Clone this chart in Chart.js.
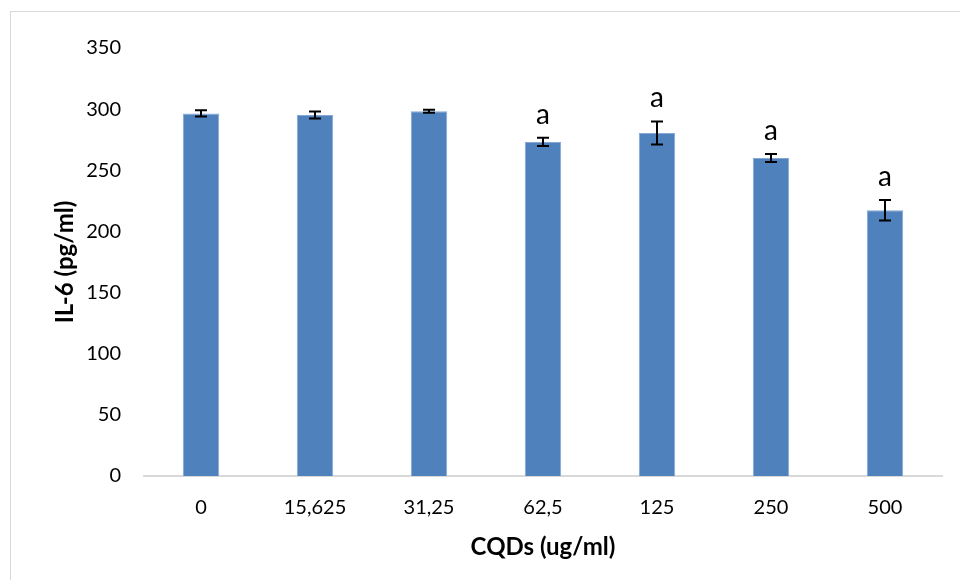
<!DOCTYPE html>
<html>
<head>
<meta charset="utf-8">
<script src="https://cdn.jsdelivr.net/npm/chart.js@4.4.1/dist/chart.umd.min.js"></script>
<style>
  html, body { margin: 0; padding: 0; background: #fff; }
  #wrap { position: relative; width: 960px; height: 580px; }
  #frame { position: absolute; left: 10px; top: 11px; width: 960px; height: 580px; border: 1px solid #d9d9d9; box-sizing: border-box; }
  canvas { position: absolute; left: 0; top: 0; }
</style>
</head>
<body>
<div id="wrap">
  <div id="frame"></div>
  <canvas id="il6Chart" width="960" height="580"></canvas>
</div>
<script>
const categories = ['0', '15,625', '31,25', '62,5', '125', '250', '500'];
const il6Values = [296.5, 295.2, 298.3, 273.2, 280.5, 260.0, 217.3];
const il6Errors = [2.5, 2.9, 1.3, 3.4, 9.4, 3.3, 8.3];
const sigLetters = ['', '', '', 'a', 'a', 'a', 'a'];
const yTicks = [0, 50, 100, 150, 200, 250, 300, 350];

const FONT = 'Lato, "Open Sans", sans-serif';

// error bars + significance letters, placed with the chart's own scales
const errorBarPlugin = {
  id: 'errorBars',
  afterDatasetsDraw(chart) {
    const ctx = chart.ctx;
    const x = chart.scales.x;
    const y = chart.scales.y;
    ctx.save();
    ctx.strokeStyle = '#000';
    ctx.lineWidth = 2;
    il6Values.forEach(function(v, i) {
      const cx = x.getPixelForValue(i);
      const top = y.getPixelForValue(v + il6Errors[i]);
      const bot = y.getPixelForValue(v - il6Errors[i]);
      ctx.beginPath();
      ctx.moveTo(cx, top);
      ctx.lineTo(cx, bot);
      ctx.moveTo(cx - 6, top);
      ctx.lineTo(cx + 6, top);
      ctx.moveTo(cx - 6, bot);
      ctx.lineTo(cx + 6, bot);
      ctx.stroke();

      if (sigLetters[i]) {
        ctx.fillStyle = '#000';
        ctx.font = '28px ' + FONT;
        ctx.textAlign = 'center';
        ctx.textBaseline = 'alphabetic';
        ctx.fillText(sigLetters[i], cx, top - 14);
      }
    });
    ctx.restore();
  }
};

document.addEventListener('DOMContentLoaded', function() {
  const canvas = document.getElementById('il6Chart');

  new Chart(canvas.getContext('2d'), {
    type: 'bar',
    data: {
      labels: categories,
      datasets: [{
        label: 'IL-6',
        data: il6Values,
        backgroundColor: '#4f81bd',
        borderColor: '#86a7d4',
        borderWidth: 1,
        categoryPercentage: 1,
        barPercentage: 0.32
      }]
    },
    options: {
      responsive: false,
      animation: false,
      layout: { padding: { left: 0, top: 48, right: 18, bottom: 0 } },
      plugins: {
        legend: { display: false },
        tooltip: { enabled: false }
      },
      scales: {
        x: {
          grid: { display: false, drawTicks: false },
          border: { display: true, color: '#d9d9d9', width: 2 },
          ticks: { color: '#000', font: { family: FONT, size: 20 }, padding: 20 },
          title: {
            display: true,
            text: 'CQDs (ug/ml)',
            color: '#000',
            font: { family: FONT, size: 24, weight: 'bold' },
            padding: { top: 0, bottom: 18 }
          },
          afterFit: function(scale) { scale.height = 104; }
        },
        y: {
          min: 0,
          max: 350,
          afterBuildTicks: function(scale) {
            scale.ticks = yTicks.map(function(v) { return { value: v }; });
          },
          grid: { display: false, drawTicks: false },
          border: { display: false },
          ticks: { color: '#000', font: { family: FONT, size: 20 }, padding: 23 },
          title: {
            display: true,
            text: 'IL-6 (pg/ml)',
            color: '#000',
            font: { family: FONT, size: 24, weight: 'bold' },
            padding: { top: 51, bottom: 0 }
          },
          afterFit: function(scale) { scale.width = 144; }
        }
      }
    },
    plugins: [errorBarPlugin]
  });
});
</script>
</body>
</html>
